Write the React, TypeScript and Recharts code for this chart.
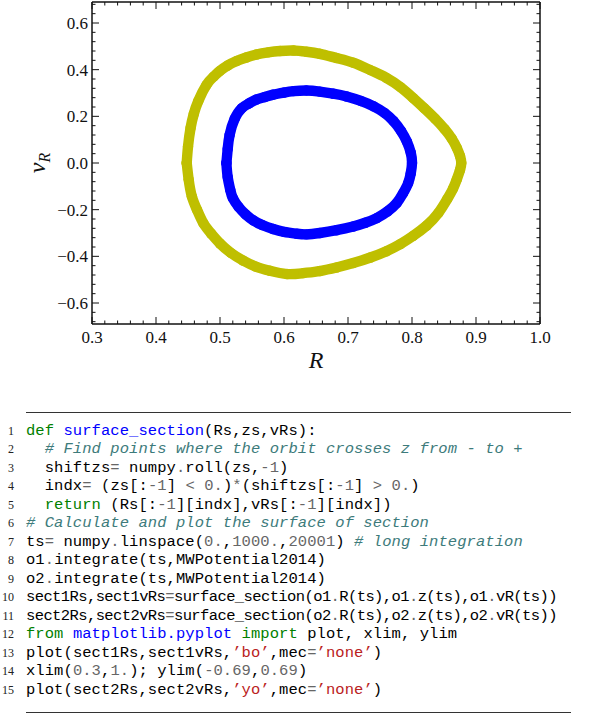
import React from 'react';
import { ScatterChart, Scatter, XAxis, YAxis } from 'recharts';

// orbit 1 (blue, 'bo') -- surface of section points, R and vR
const orbit1R = [
  0.510, 0.512, 0.515, 0.523, 0.534, 0.545, 0.557, 0.570, 0.583, 0.600, 0.615, 0.635,
  0.656, 0.677, 0.698, 0.720, 0.740, 0.757, 0.771, 0.783, 0.792, 0.798, 0.800,
  0.798, 0.794, 0.786, 0.776, 0.762, 0.745, 0.727, 0.708, 0.682, 0.656, 0.635, 0.620,
  0.600, 0.583, 0.566, 0.552, 0.540, 0.529, 0.520, 0.516, 0.512, 0.510,
];
const orbit1vR = [
  0.000, 0.060, 0.120, 0.190, 0.235, 0.255, 0.272, 0.283, 0.293, 0.302, 0.308, 0.311,
  0.306, 0.297, 0.285, 0.266, 0.243, 0.215, 0.180, 0.137, 0.092, 0.045, 0.000,
  -0.045, -0.086, -0.130, -0.172, -0.207, -0.236, -0.256, -0.272, -0.288, -0.300, -0.306, -0.303,
  -0.295, -0.283, -0.266, -0.246, -0.220, -0.188, -0.150, -0.115, -0.060, 0.000,
];

// orbit 2 (yellow, 'yo')
const orbit2R = [
  0.448, 0.450, 0.454, 0.459, 0.466, 0.479, 0.490, 0.500, 0.512, 0.526, 0.541, 0.557,
  0.575, 0.594, 0.615, 0.635, 0.656, 0.682, 0.708, 0.735, 0.760, 0.782, 0.802, 0.819,
  0.836, 0.851, 0.862, 0.870, 0.875, 0.877,
  0.875, 0.870, 0.864, 0.855, 0.841, 0.823, 0.802, 0.782, 0.760, 0.735, 0.708, 0.682,
  0.656, 0.630, 0.605, 0.578, 0.556, 0.536, 0.517, 0.500, 0.486, 0.474, 0.464, 0.456,
  0.451, 0.448,
];
const orbit2vR = [
  0.000, 0.070, 0.150, 0.210, 0.265, 0.335, 0.370, 0.395, 0.418, 0.437, 0.452, 0.465,
  0.474, 0.480, 0.482, 0.477, 0.468, 0.450, 0.430, 0.398, 0.365, 0.325, 0.278, 0.235,
  0.190, 0.145, 0.105, 0.065, 0.030, 0.000,
  -0.030, -0.070, -0.110, -0.155, -0.215, -0.268, -0.312, -0.347, -0.378, -0.405, -0.429, -0.448,
  -0.463, -0.472, -0.476, -0.462, -0.444, -0.418, -0.385, -0.345, -0.302, -0.258, -0.200, -0.143,
  -0.070, 0.000,
];

const xTicks = Array.from({ length: 36 }, (_, i) => +(0.3 + i * 0.02).toFixed(2));
const yTicks = Array.from({ length: 35 }, (_, i) => +(-0.68 + i * 0.04).toFixed(2));

const codeLines = [
  'def surface_section(Rs,zs,vRs):',
  '  # Find points where the orbit crosses z from - to +',
  '  shiftzs= numpy.roll(zs,-1)',
  '  indx= (zs[:-1] < 0.)*(shiftzs[:-1] > 0.)',
  '  return (Rs[:-1][indx],vRs[:-1][indx])',
  '# Calculate and plot the surface of section',
  'ts= numpy.linspace(0.,1000.,20001) # long integration',
  'o1.integrate(ts,MWPotential2014)',
  'o2.integrate(ts,MWPotential2014)',
  'sect1Rs,sect1vRs=surface_section(o1.R(ts),o1.z(ts),o1.vR(ts))',
  'sect2Rs,sect2vRs=surface_section(o2.R(ts),o2.z(ts),o2.vR(ts))',
  'from matplotlib.pyplot import plot, xlim, ylim',
  "plot(sect1Rs,sect1vRs,'bo',mec='none')",
  'xlim(0.3,1.); ylim(-0.69,0.69)',
  "plot(sect2Rs,sect2vRs,'yo',mec='none')",
];

const blue = '#0000ff';
const yellow = '#bfbf00';
const AXIS = '#111';
const SERIF = '"Liberation Serif", "DejaVu Serif", serif';
const MONO = '"Liberation Mono", "DejaVu Sans Mono", monospace';

const data1 = orbit1R.map((r, i) => ({ R: r, vR: orbit1vR[i] }));
const data2 = orbit2R.map((r, i) => ({ R: r, vR: orbit2vR[i] }));

const isMajor = (v: number, step: number) => Math.abs(v / step - Math.round(v / step)) < 1e-6;
const fmt = (v: number) => v.toFixed(1).replace('-', '\u2212');

const BottomTick = ({ x, y, payload }: any) => {
  const major = isMajor(payload.value, 0.1);
  return (
    <g>
      <line x1={x} x2={x} y1={y} y2={y - (major ? 7 : 3.5)} stroke={AXIS} strokeWidth={1} />
      {major && (
        <text x={x} y={y + 19} textAnchor="middle" fontFamily={SERIF} fontSize={17} fill="#111">
          {fmt(payload.value)}
        </text>
      )}
    </g>
  );
};

const TopTick = ({ x, y, payload }: any) => {
  const major = isMajor(payload.value, 0.1);
  return <line x1={x} x2={x} y1={y} y2={y + (major ? 7 : 3.5)} stroke={AXIS} strokeWidth={1} />;
};

const LeftTick = ({ x, y, payload }: any) => {
  const major = isMajor(payload.value, 0.2);
  return (
    <g>
      <line x1={x} x2={x + (major ? 7 : 3.5)} y1={y} y2={y} stroke={AXIS} strokeWidth={1} />
      {major && (
        <text x={x - 4} y={y} dy="0.35em" textAnchor="end" fontFamily={SERIF} fontSize={17} fill="#111">
          {fmt(payload.value)}
        </text>
      )}
    </g>
  );
};

const RightTick = ({ x, y, payload }: any) => {
  const major = isMajor(payload.value, 0.2);
  return <line x1={x} x2={x - (major ? 7 : 3.5)} y1={y} y2={y} stroke={AXIS} strokeWidth={1} />;
};

const Dot = (color: string) => (p: any) => <circle cx={p.cx} cy={p.cy} r={5.2} fill={color} />;
const NoDot = () => <g />;

// tiny pygments-like highlighter
const KEYWORDS = new Set(['def', 'return', 'from', 'import']);
function highlight(line: string) {
  const out: React.ReactNode[] = [];
  const re = /(#.*$)|('[^']*')|(\d+\.?\d*)|([A-Za-z_]\w*)|([=<>*+\-.])|(\s+)|(.)/g;
  let m: RegExpExecArray | null;
  let mode = '';
  let k = 0;
  while ((m = re.exec(line))) {
    const t = m[0];
    let style: React.CSSProperties = { color: '#000' };
    if (m[1]) style = { color: '#3d7b7b', fontStyle: 'italic' };
    else if (m[2]) style = { color: '#ba2121' };
    else if (m[3]) style = { color: '#666' };
    else if (m[4]) {
      if (KEYWORDS.has(t)) {
        style = { color: '#008000' };
        mode = t === 'def' ? 'def' : t === 'from' ? 'ns' : '';
      } else if (mode === 'def') {
        style = { color: blue };
        mode = '';
      } else if (mode === 'ns') style = { color: blue };
    } else if (m[5]) style = { color: mode === 'ns' ? blue : '#666' };
    const text = m[2] ? t.replace(/'/g, '\u2019') : t;
    out.push(<span key={k++} style={style}>{text}</span>);
  }
  return out;
}

export default function App() {
  return (
    <div style={{ position: 'absolute', left: 0, top: 0, width: 600, height: 715, background: '#fff' }}>
      <ScatterChart width={600} height={385} margin={{ top: 0, right: 58, bottom: 0, left: 0 }}>
        <XAxis
          xAxisId="b"
          type="number"
          dataKey="R"
          domain={[0.3, 1.0]}
          ticks={xTicks}
          interval={0}
          allowDataOverflow
          height={61}
          tickSize={0}
          tickMargin={0}
          tick={<BottomTick />}
          axisLine={{ stroke: AXIS, strokeWidth: 1.5 }}
          label={{
            content: ({ viewBox }: any) => (
              <text
                x={viewBox.x + viewBox.width / 2}
                y={viewBox.y + 44}
                textAnchor="middle"
                fontFamily={SERIF}
                fontStyle="italic"
                fontSize={24}
                fill="#111"
              >
                R
              </text>
            ),
          }}
        />
        <XAxis
          xAxisId="t"
          orientation="top"
          type="number"
          dataKey="R"
          domain={[0.3, 1.0]}
          ticks={xTicks}
          interval={0}
          allowDataOverflow
          height={2}
          tickSize={0}
          tickMargin={0}
          tick={<TopTick />}
          axisLine={{ stroke: AXIS, strokeWidth: 1.5 }}
        />
        <YAxis
          yAxisId="l"
          type="number"
          dataKey="vR"
          domain={[-0.69, 0.69]}
          ticks={yTicks}
          interval={0}
          allowDataOverflow
          width={92}
          tickSize={0}
          tickMargin={0}
          tick={<LeftTick />}
          axisLine={{ stroke: AXIS, strokeWidth: 1.5 }}
          label={{
            content: ({ viewBox }: any) => {
              const cx = viewBox.x + 38;
              const cy = viewBox.y + viewBox.height / 2;
              return (
                <text
                  x={cx}
                  y={cy}
                  transform={`rotate(-90 ${cx} ${cy})`}
                  textAnchor="middle"
                  fontFamily={SERIF}
                  fontStyle="italic"
                  fontSize={24}
                  fill="#111"
                  dy="0.3em"
                >
                  v<tspan fontSize={16} dy="5">R</tspan>
                </text>
              );
            },
          }}
        />
        <YAxis
          yAxisId="r"
          orientation="right"
          type="number"
          dataKey="vR"
          domain={[-0.69, 0.69]}
          ticks={yTicks}
          interval={0}
          allowDataOverflow
          width={2}
          tickSize={0}
          tickMargin={0}
          tick={<RightTick />}
          axisLine={{ stroke: AXIS, strokeWidth: 1.5 }}
        />
        {/* binds the mirrored top/right axes; draws nothing */}
        <Scatter data={data1} xAxisId="t" yAxisId="r" shape={NoDot} isAnimationActive={false} />
        <Scatter
          data={data1}
          xAxisId="b"
          yAxisId="l"
          fill={blue}
          line={{ stroke: blue, strokeWidth: 10.4, strokeLinejoin: 'round', strokeLinecap: 'round' }}
          lineJointType="natural"
          shape={Dot(blue)}
          isAnimationActive={false}
        />
        <Scatter
          data={data2}
          xAxisId="b"
          yAxisId="l"
          fill={yellow}
          line={{ stroke: yellow, strokeWidth: 10.4, strokeLinejoin: 'round', strokeLinecap: 'round' }}
          lineJointType="natural"
          shape={Dot(yellow)}
          isAnimationActive={false}
        />
      </ScatterChart>

      <div style={{ position: 'absolute', left: 26, top: 411.5, width: 545, height: 1.6, background: '#333' }} />
      <div style={{ position: 'absolute', left: 0, top: 421.5, width: 600 }}>
        {codeLines.map((ln, i) => (
          <div key={i} style={{ position: 'relative', height: 18.5, lineHeight: '18.5px' }}>
            <span
              style={{
                position: 'absolute',
                left: 0,
                width: 14,
                textAlign: 'right',
                fontFamily: SERIF,
                fontSize: 12,
                color: '#222',
              }}
            >
              {i + 1}
            </span>
            <span
              style={{
                position: 'absolute',
                left: 26,
                whiteSpace: 'pre',
                fontFamily: MONO,
                fontSize: 15.5,
                letterSpacing: ln.length > 58 ? -0.6 : 0.07,
              }}
            >
              {highlight(ln)}
            </span>
          </div>
        ))}
      </div>
      <div style={{ position: 'absolute', left: 26, top: 711.5, width: 545, height: 1.6, background: '#333' }} />
    </div>
  );
}
